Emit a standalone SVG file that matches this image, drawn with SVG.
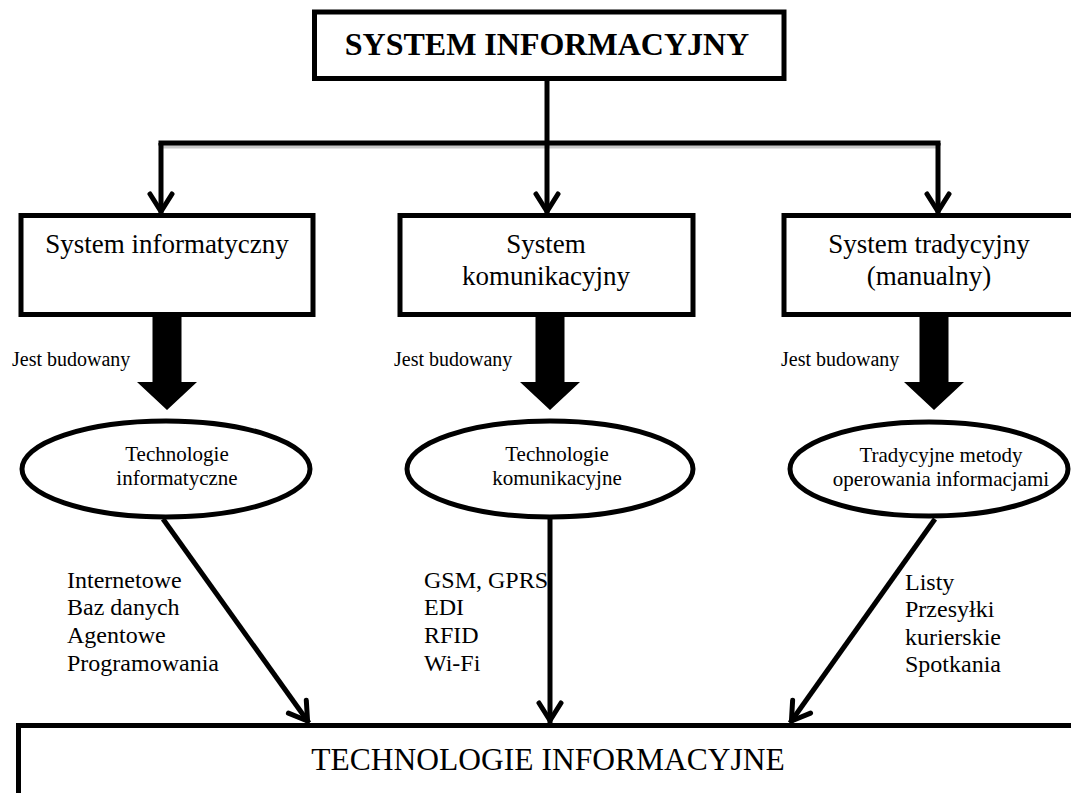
<svg xmlns="http://www.w3.org/2000/svg" width="1071" height="793" viewBox="0 0 1071 793">
<style>
.box{fill:#fff;stroke:#000;stroke-width:5}
.ell{fill:#fff;stroke:#000;stroke-width:5}
.ln{fill:none;stroke:#000;stroke-width:5}
.sh{fill:none;stroke:#c8c8c8;stroke-width:5}
.blk{fill:#000}
text{font-family:"Liberation Serif","Times New Roman",serif;fill:#000}
.t27{font-size:27px;text-anchor:middle}
.t21{font-size:21px;text-anchor:middle}
.t20{font-size:20px}
.t24{font-size:24px}
</style>
<defs>
<marker id="ah" markerUnits="userSpaceOnUse" markerWidth="30" markerHeight="30" viewBox="-25 -15 30 30" refX="0" refY="0" orient="auto">
<path d="M-20,-11 L-2.5,0 L-20,11" fill="none" stroke="#000" stroke-width="5" stroke-linejoin="round" stroke-linecap="round"/>
</marker>
</defs>

<g id="connectors">
<path class="sh" d="M163,146 L940,146"/>
<line class="ln" x1="547" y1="80" x2="547" y2="143"/>
<line class="ln" x1="158.5" y1="143" x2="940.5" y2="143"/>
<line class="ln" x1="161" y1="143" x2="161" y2="214" marker-end="url(#ah)"/>
<line class="ln" x1="547" y1="143" x2="547" y2="214" marker-end="url(#ah)"/>
<line class="ln" x1="938" y1="143" x2="938" y2="214" marker-end="url(#ah)"/>
<polygon class="blk" points="152.5,315 181.5,315 181.5,382 197,382 167,410 137,382 152.5,382"/>
<polygon class="blk" points="535.5,315 564.5,315 564.5,382 580,382 550,410 520,382 535.5,382"/>
<polygon class="blk" points="919.5,315 948.5,315 948.5,382 964,382 934,410 904,382 919.5,382"/>
<line class="ln" x1="163" y1="519" x2="309" y2="723" marker-end="url(#ah)"/>
<line class="ln" x1="550" y1="519" x2="550" y2="723" marker-end="url(#ah)"/>
<line class="ln" x1="935" y1="519" x2="790" y2="723" marker-end="url(#ah)"/>
<text class="t20" x="12" y="366">Jest budowany</text>
<text class="t20" x="394" y="366">Jest budowany</text>
<text class="t20" x="781" y="366">Jest budowany</text>
<text class="t24" x="67"><tspan x="67" y="588">Internetowe</tspan><tspan x="67" y="615">Baz danych</tspan><tspan x="67" y="643">Agentowe</tspan><tspan x="67" y="671">Programowania</tspan></text>
<text class="t24"><tspan x="424" y="588">GSM, GPRS</tspan><tspan x="424" y="615">EDI</tspan><tspan x="424" y="643">RFID</tspan><tspan x="424" y="671">Wi-Fi</tspan></text>
<text class="t24"><tspan x="905" y="590">Listy</tspan><tspan x="905" y="617">Przesyłki</tspan><tspan x="905" y="645">kurierskie</tspan><tspan x="905" y="672">Spotkania</tspan></text>
</g>

<g id="system-informacyjny">
<rect class="box" x="314.5" y="12" width="469.5" height="66.5"/>
<text x="547" y="55" font-size="32" font-weight="bold" text-anchor="middle">SYSTEM INFORMACYJNY</text>
</g>

<g id="system-informatyczny">
<rect class="box" x="21" y="215.5" width="292" height="99"/>
<text class="t27" x="167" y="253">System informatyczny</text>
</g>

<g id="system-komunikacyjny">
<rect class="box" x="400" y="215.5" width="293" height="99"/>
<text class="t27" x="546" y="253">System</text>
<text class="t27" x="546" y="285">komunikacyjny</text>
</g>

<g id="system-tradycyjny">
<rect class="box" x="784" y="215.5" width="300" height="99"/>
<text class="t27" x="929" y="253">System tradycyjny</text>
<text class="t27" x="929" y="285">(manualny)</text>
</g>

<g id="technologie-informatyczne">
<ellipse class="ell" cx="166" cy="469" rx="144" ry="48"/>
<text class="t21" x="177" y="461">Technologie</text>
<text class="t21" x="177" y="485">informatyczne</text>
</g>

<g id="technologie-komunikacyjne">
<ellipse class="ell" cx="550" cy="469" rx="143" ry="48"/>
<text class="t21" x="557" y="461">Technologie</text>
<text class="t21" x="557" y="485">komunikacyjne</text>
</g>

<g id="tradycyjne-metody">
<ellipse class="ell" cx="929" cy="469" rx="139" ry="47"/>
<text class="t21" x="941" y="462" font-size="20.5">Tradycyjne metody</text>
<text class="t21" x="941" y="486" font-size="20.5">operowania informacjami</text>
</g>

<g id="technologie-informacyjne">
<rect class="box" x="18.5" y="725.5" width="1100" height="200"/>
<text x="548" y="770" font-size="31.5" text-anchor="middle">TECHNOLOGIE INFORMACYJNE</text>
</g>
</svg>
